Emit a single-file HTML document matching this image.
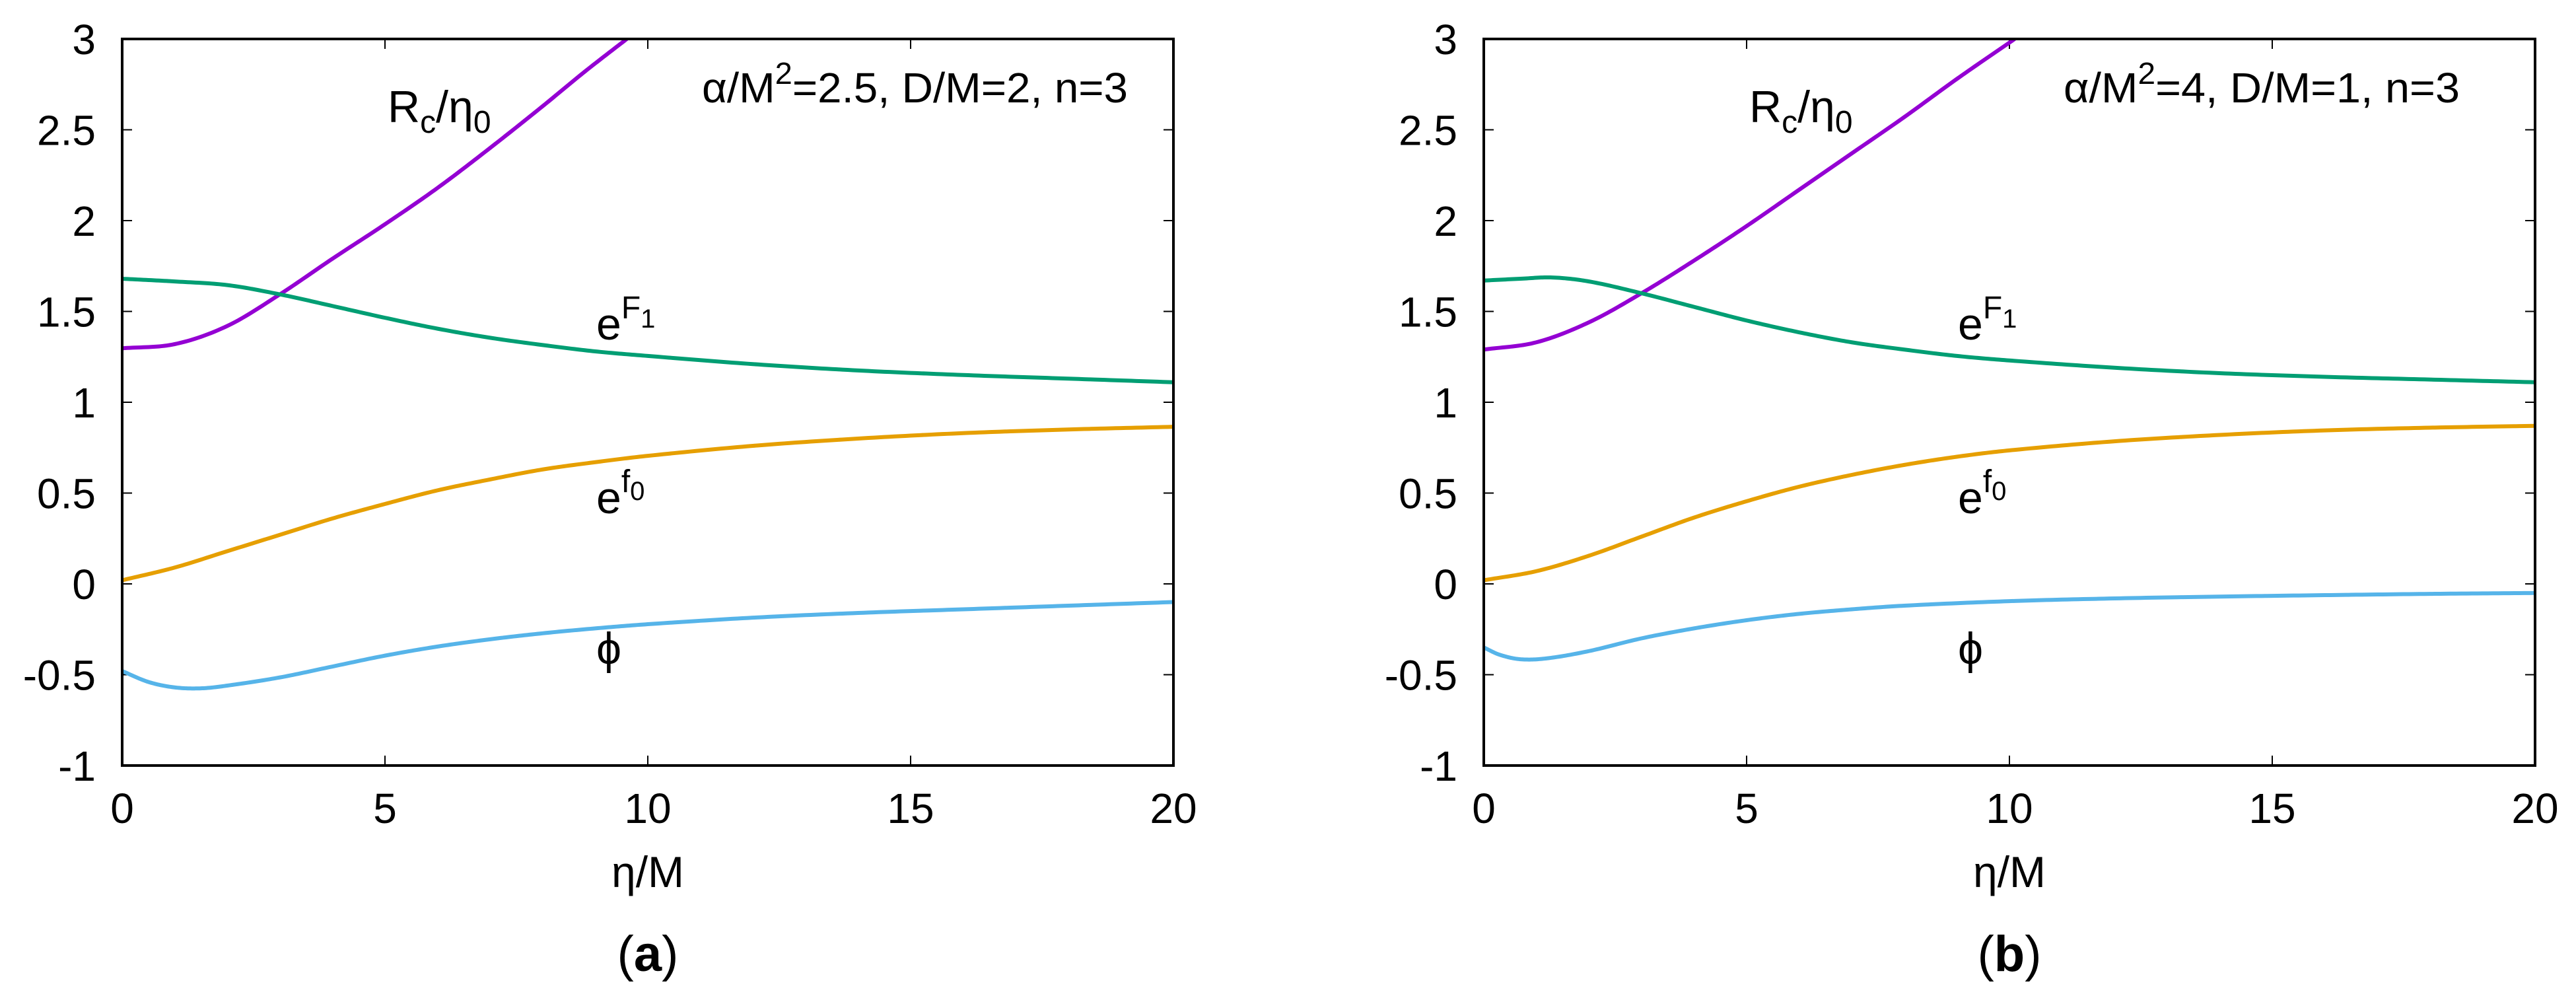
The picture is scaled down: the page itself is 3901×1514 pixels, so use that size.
<!DOCTYPE html>
<html><head><meta charset="utf-8"><style>
html,body{margin:0;padding:0;background:#fff}
svg{display:block}
text{font-family:"Liberation Sans",sans-serif;fill:#000}
</style></head><body>
<svg id="fig" width="3901" height="1514" viewBox="0 0 3901 1514" xmlns="http://www.w3.org/2000/svg"></svg>
<script>
const xTicks=[0,5,10,15,20];
const yTicks=[-1,-0.5,0,0.5,1,1.5,2,2.5,3];
const yTickLabels=["-1","-0.5","0","0.5","1","1.5","2","2.5","3"];
// panel a
const aRcX=[0,1,2,3,4,5,6,7,8,8.8,9.6];
const aRcY=[1.297,1.32,1.42,1.594,1.79,1.98,2.18,2.40,2.63,2.82,3.0];
const aF1X=[0,1,2,3,4,5,6,7,8,9,10,12,14,16,18,20];
const aF1Y=[1.68,1.665,1.645,1.594,1.53,1.465,1.405,1.355,1.315,1.28,1.255,1.21,1.175,1.15,1.13,1.11];
const aF0X=[0,1,2,3,4,5,6,7,8,9,10,12,14,16,18,20];
const aF0Y=[0.02,0.09,0.18,0.27,0.36,0.44,0.515,0.575,0.63,0.67,0.705,0.76,0.80,0.83,0.85,0.865];
const aPhiX=[0,0.5,1,1.5,2,3,4,5,6,7,8,9,10,12,14,16,18,20];
const aPhiY=[-0.48,-0.54,-0.57,-0.575,-0.56,-0.515,-0.455,-0.395,-0.345,-0.305,-0.272,-0.245,-0.222,-0.186,-0.16,-0.14,-0.12,-0.10];
// panel b
const bRcX=[0,1,2,3,4,5,6,7,8,9,10.1];
const bRcY=[1.29,1.33,1.44,1.60,1.78,1.97,2.17,2.37,2.57,2.78,3.0];
const bF1X=[0,0.7,1.3,2,3,4,5,6,7,8,9,10,12,14,16,18,20];
const bF1Y=[1.67,1.68,1.687,1.665,1.60,1.525,1.45,1.385,1.33,1.29,1.255,1.23,1.19,1.16,1.14,1.125,1.11];
const bF0X=[0,1,2,3,4,5,6,7,8,9,10,12,14,16,18,20];
const bF0Y=[0.02,0.07,0.155,0.26,0.365,0.455,0.535,0.60,0.655,0.70,0.735,0.785,0.82,0.845,0.86,0.87];
const bPhiX=[0,0.3,0.7,1.2,2,3,4,5,6,7,8,10,12,14,16,18,20];
const bPhiY=[-0.35,-0.39,-0.415,-0.41,-0.37,-0.30,-0.245,-0.20,-0.165,-0.14,-0.12,-0.095,-0.08,-0.07,-0.062,-0.055,-0.05];

const NS="http://www.w3.org/2000/svg";
const svg=document.getElementById('fig');
function mk(tag,attrs,parent){const e=document.createElementNS(NS,tag);for(const k in attrs)e.setAttribute(k,attrs[k]);(parent||svg).appendChild(e);return e;}

function hermitePath(xs,ys,sx,sy){
  const n=xs.length,m=[];
  for(let i=0;i<n;i++){
    if(i===0)m.push((ys[1]-ys[0])/(xs[1]-xs[0]));
    else if(i===n-1)m.push((ys[n-1]-ys[n-2])/(xs[n-1]-xs[n-2]));
    else m.push((ys[i+1]-ys[i-1])/(xs[i+1]-xs[i-1]));
  }
  let d=`M${sx(xs[0])},${sy(ys[0])}`;
  for(let i=0;i<n-1;i++){
    const h=xs[i+1]-xs[i];
    for(let k=1;k<=20;k++){
      const t=k/20,t2=t*t,t3=t2*t;
      const y=(2*t3-3*t2+1)*ys[i]+(t3-2*t2+t)*h*m[i]+(-2*t3+3*t2)*ys[i+1]+(t3-t2)*h*m[i+1];
      d+=` L${sx(xs[i]+t*h).toFixed(2)},${sy(y).toFixed(2)}`;
    }
  }
  return d;
}

function panel(id,L,series,annot,cap){
  const R=L+1592,T=59,B=1159;
  const sx=v=>L+(v-0)/20*(R-L);
  const sy=v=>B-(v+1)/4*(B-T);
  const g=mk('g',{});
  
  
  yTicks.forEach((t,i)=>{
    const y=sy(t);
    const tk=mk('path',{d:`M${L},${y}h15M${R},${y}h-15`,stroke:'#000','stroke-width':2},g);
    
    
    const lb=mk('text',{x:L-40,y:y+23,'font-size':64,'text-anchor':'end'},g);
    lb.textContent=yTickLabels[i];
    
    
  });
  xTicks.forEach(t=>{
    const x=sx(t);
    const tk=mk('path',{d:`M${x},${B}v-15M${x},${T}v15`,stroke:'#000','stroke-width':2},g);
    
    
    const lb=mk('text',{x:x,y:1246,'font-size':64,'text-anchor':'middle'},g);
    lb.textContent=String(t);
    
    
  });
  const cp=mk('clipPath',{id:'clip'+id},g);
  mk('rect',{x:L,y:T,width:R-L,height:B-T},cp);
  series.forEach(s=>{
    const p=mk('path',{d:hermitePath(s.x,s.y,sx,sy),fill:'none',stroke:s.c,'stroke-width':6,'stroke-linejoin':'round','clip-path':`url(#clip${id})`},g);
    
    
  });
  const fr=mk('rect',{x:L,y:T,width:R-L,height:B-T,fill:'none',stroke:'#000','stroke-width':4},g);
  
  
  const off=L;
  const t1=mk('text',{x:off+402,y:185,'font-size':68},g);
  t1.innerHTML='R<tspan font-size="48" dy="16">c</tspan><tspan dy="-16">/η</tspan><tspan font-size="48" dy="16">0</tspan>';
  
  
  const t2=mk('text',{x:off+878,y:155,'font-size':64,textLength:annot.w,lengthAdjust:'spacingAndGlyphs'},g);
  t2.innerHTML=annot.html;
  
  
  const t3=mk('text',{x:off+718,y:514,'font-size':68},g);
  t3.innerHTML='e<tspan font-size="48" dy="-32">F</tspan><tspan font-size="40" dy="14">1</tspan>';
  
  
  const t4=mk('text',{x:off+718,y:777,'font-size':68},g);
  t4.innerHTML='e<tspan font-size="48" dy="-32">f</tspan><tspan font-size="40" dy="12">0</tspan>';
  
  
  const t5=mk('text',{x:off+718,y:1005,'font-size':68},g);
  t5.textContent='ϕ';
  
  
  const xt=mk('text',{x:(L+R)/2,y:1343,'font-size':66,'text-anchor':'middle'},g);
  xt.textContent='η/M';
  
  
  const c=mk('text',{x:(L+R)/2,y:1470,'font-size':76,'text-anchor':'middle','font-family':'"Liberation Serif",serif'},g);
  c.innerHTML='(<tspan font-weight="bold">'+cap+'</tspan>)';
  
  
}
const PUR='#9400d3',GRN='#009e73',ORG='#e69f00',BLU='#56b4e9';
panel('a',185,[
  {x:aRcX,y:aRcY,c:PUR,n:'rc-curve'},
  {x:aF1X,y:aF1Y,c:GRN,n:'ef1-curve'},
  {x:aF0X,y:aF0Y,c:ORG,n:'ef0-curve'},
  {x:aPhiX,y:aPhiY,c:BLU,n:'phi-curve'}],
  {w:645,html:'α/M<tspan font-size="46" dy="-28">2</tspan><tspan dy="28">=2.5, D/M=2, n=3</tspan>'},'a');
panel('b',2247,[
  {x:bRcX,y:bRcY,c:PUR,n:'rc-curve'},
  {x:bF1X,y:bF1Y,c:GRN,n:'ef1-curve'},
  {x:bF0X,y:bF0Y,c:ORG,n:'ef0-curve'},
  {x:bPhiX,y:bPhiY,c:BLU,n:'phi-curve'}],
  {w:600,html:'α/M<tspan font-size="46" dy="-28">2</tspan><tspan dy="28">=4, D/M=1, n=3</tspan>'},'b');
</script>
</body></html>
